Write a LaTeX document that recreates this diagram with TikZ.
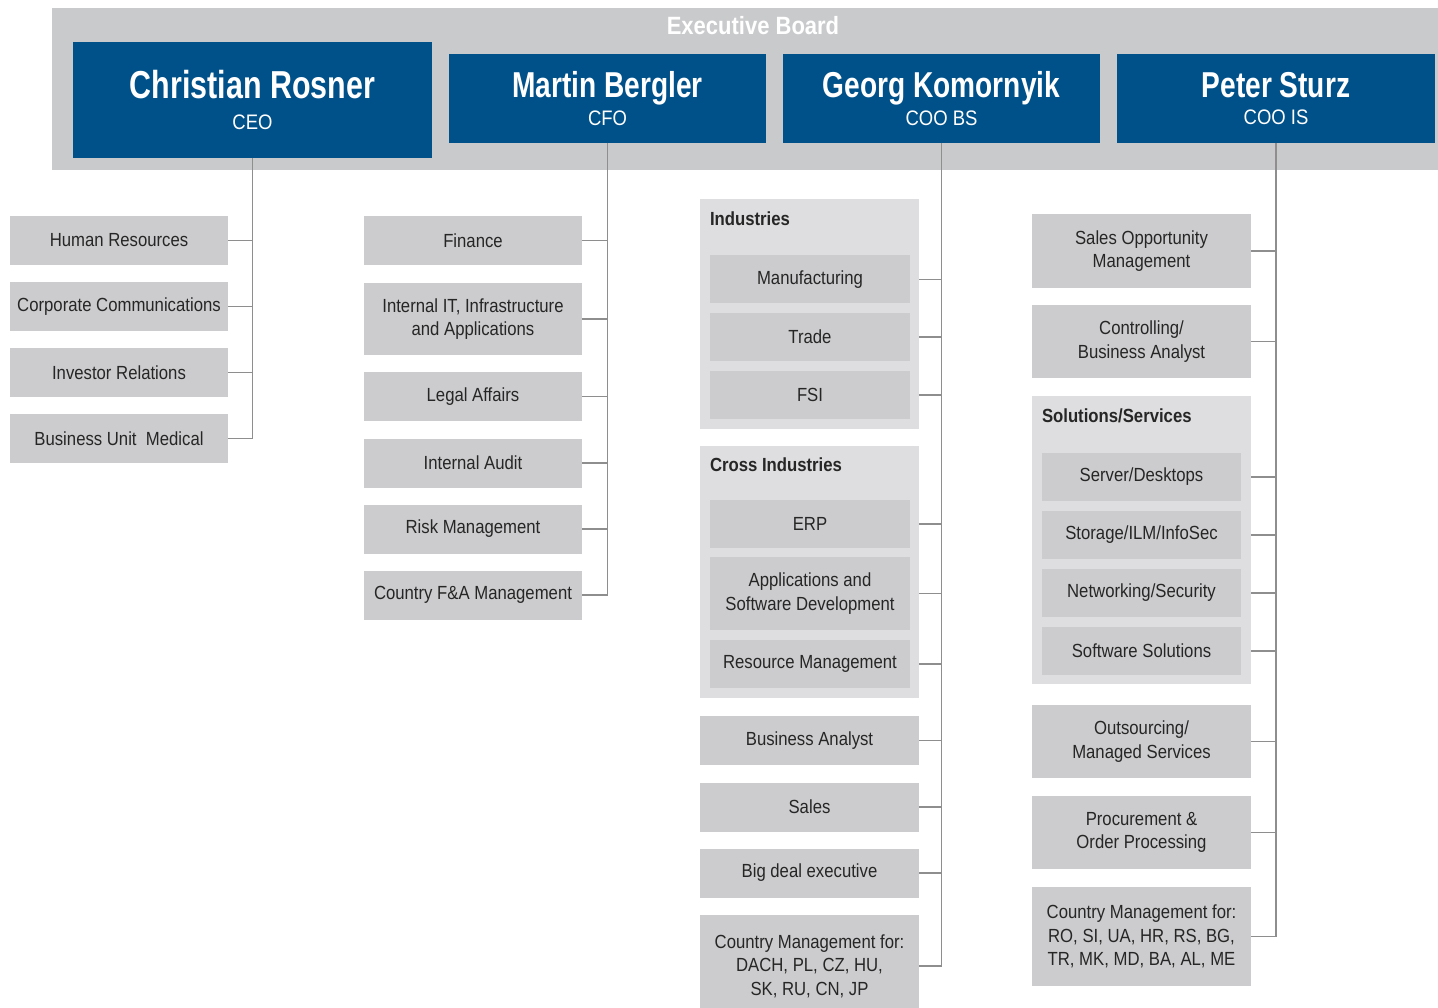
\documentclass[tikz,border=0pt]{standalone}
\usepackage{fontspec}
\setmainfont[FakeStretch=0.88]{Liberation Sans}
\newfontfamily\namefont[FakeStretch=0.78]{Liberation Sans}
\usetikzlibrary{positioning}
\definecolor{boardgrey}{RGB}{201,202,204}
\definecolor{sbsblue}{RGB}{0,81,137}
\definecolor{unitgrey}{RGB}{204,204,206}
\definecolor{groupgrey}{RGB}{222,222,224}
\definecolor{linkgrey}{RGB}{142,142,142}
\definecolor{textgrey}{RGB}{38,38,38}

\begin{document}
\begin{tikzpicture}[x=1pt,y=-1pt,
  every node/.style={inner sep=0pt,outer sep=0pt},
  execbox/.style={fill=sbsblue,text=white,align=center,minimum width=317pt,minimum height=89pt,font=\fontsize{21}{30}\selectfont},
  unitbox/.style={fill=unitgrey,text=textgrey,align=center,minimum width=218pt,minimum height=49pt,font=\fontsize{19}{23.5}\selectfont},
  subbox/.style={unitbox,minimum width=200pt,minimum height=48pt},
  groupbox/.style={fill=groupgrey,minimum width=219pt},
  grouptitle/.style={anchor=west,text=textgrey,font=\bfseries\fontsize{19}{23}\selectfont},
  link/.style={draw=linkgrey,line width=1.5pt}]
\useasboundingbox (0,0) rectangle (1438,1008);

\node[fill=boardgrey,minimum width=1393pt,minimum height=162pt] (board) at (748.5,89) {};
\node[text=white,font=\bfseries\fontsize{25}{25}\selectfont] (boardtitle) at (753,26) {Executive Board};

\node[execbox,minimum width=359pt,minimum height=116pt] (ceo) at (252.5,100)
  {{\namefont\bfseries\fontsize{39}{39}\selectfont Christian Rosner}\\[1pt]CEO};
\node[execbox] (cfo) at (607.5,98.5)
  {{\namefont\bfseries\fontsize{36}{36}\selectfont Martin Bergler}\\[-2.5pt]CFO};
\node[execbox] (coobs) at (941.5,98.5)
  {{\namefont\bfseries\fontsize{36}{36}\selectfont Georg Komornyik}\\[-2.5pt]COO BS};
\node[execbox,minimum width=318pt] (coois) at (1276,98.5)
  {{\namefont\bfseries\fontsize{36}{36}\selectfont Peter Sturz}\\[-2.5pt]COO IS};

\node[unitbox] (hr) at (119,240.5) {Human Resources};
\node[unitbox] (cc) at (119,306.5) {Corporate Communications};
\node[unitbox] (ir) at (119,372.5) {Investor Relations};
\node[unitbox] (bum) at (119,438.5) {Business Unit\ \ Medical};

\node[unitbox] (fin) at (473,240.5) {Finance};
\node[unitbox,minimum height=72pt] (iit) at (473,319) {Internal IT, Infrastructure\\and Applications};
\node[unitbox] (legal) at (473,396.5) {Legal Affairs};
\node[unitbox] (audit) at (473,463) {Internal Audit};
\node[unitbox] (risk) at (473,529) {Risk Management};
\node[unitbox] (cfa) at (473,595) {Country F\&A Management};

\node[groupbox,minimum height=230pt] (ind) at (809.5,314) {};
\node[grouptitle] (indtitle) at (710,219) {Industries};
\node[subbox] (mfg) at (810,279.5) {Manufacturing};
\node[subbox] (trade) at (810,337) {Trade};
\node[subbox] (fsi) at (810,395) {FSI};
\node[groupbox,minimum height=252pt] (cross) at (809.5,572) {};
\node[grouptitle] (crosstitle) at (710,465) {Cross Industries};
\node[subbox] (erp) at (810,524) {ERP};
\node[subbox,minimum height=73pt] (asd) at (810,593.5) {Applications and\\Software Development};
\node[subbox] (resm) at (810,664) {Resource Management};
\node[unitbox,minimum width=219pt] (ba) at (809.5,740.5) {Business Analyst};
\node[unitbox,minimum width=219pt] (sales) at (809.5,807) {Sales};
\node[unitbox,minimum width=219pt] (bigdeal) at (809.5,873) {Big deal executive};
\node[unitbox,minimum width=219pt,minimum height=102pt] (cmbs) at (809.5,966)
  {Country Management for:\\DACH, PL, CZ, HU,\\SK, RU, CN, JP};

\node[unitbox,minimum width=219pt,minimum height=74pt] (sopp) at (1141.5,251) {Sales Opportunity\\Management};
\node[unitbox,minimum width=219pt,minimum height=73pt] (ctrl) at (1141.5,341.5) {Controlling/\\Business Analyst};
\node[groupbox,minimum height=288pt] (sol) at (1141.5,540) {};
\node[grouptitle] (soltitle) at (1042,416) {Solutions/Services};
\node[subbox,minimum width=199pt] (srv) at (1141.5,477) {Server/Desktops};
\node[subbox,minimum width=199pt] (stor) at (1141.5,535) {Storage/ILM/InfoSec};
\node[subbox,minimum width=199pt] (net) at (1141.5,593) {Networking/Security};
\node[subbox,minimum width=199pt] (sw) at (1141.5,651) {Software Solutions};
\node[unitbox,minimum width=219pt,minimum height=73pt] (outs) at (1141.5,741.5) {Outsourcing/\\Managed Services};
\node[unitbox,minimum width=219pt,minimum height=73pt] (proc) at (1141.5,832.5) {Procurement \&\\Order Processing};
\node[unitbox,minimum width=219pt,minimum height=99pt] (cmis) at (1141.5,936.5)
  {Country Management for:\\RO, SI, UA, HR, RS, BG,\\TR, MK, MD, BA, AL, ME};

\draw[link] (ceo.south) |- (bum.east);
\foreach \u in {hr,cc,ir}
  \draw[link] (\u.east) -- (ceo.south |- \u.east);

\draw[link] (cfo.south) |- (cfa.east);
\foreach \u in {fin,iit,legal,audit,risk}
  \draw[link] (\u.east) -- (cfo.south |- \u.east);

\draw[link] (coobs.south) |- (cmbs.east);
\foreach \u in {mfg,trade,fsi}
  \draw[link] (\u.east -| ind.east) -- (coobs.south |- \u.east);
\foreach \u in {erp,asd,resm}
  \draw[link] (\u.east -| cross.east) -- (coobs.south |- \u.east);
\foreach \u in {ba,sales,bigdeal}
  \draw[link] (\u.east) -- (coobs.south |- \u.east);

\draw[link] (coois.south) |- (cmis.east);
\foreach \u in {sopp,ctrl,outs,proc}
  \draw[link] (\u.east) -- (coois.south |- \u.east);
\foreach \u in {srv,stor,net,sw}
  \draw[link] (\u.east -| sol.east) -- (coois.south |- \u.east);
\end{tikzpicture}
\end{document}
